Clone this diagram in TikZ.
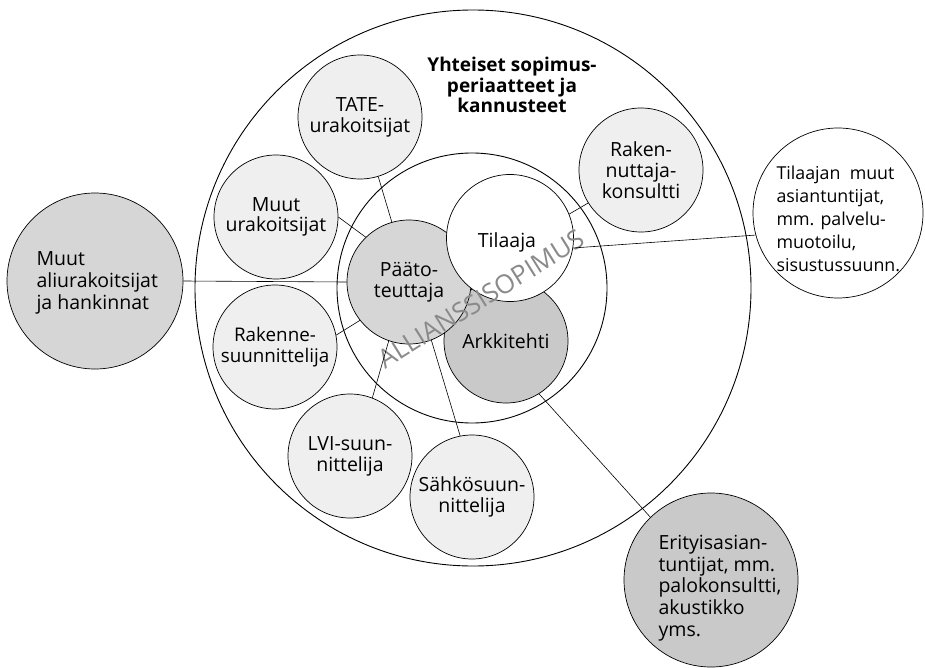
\documentclass[tikz,border=0pt]{standalone}
\usepackage{fontspec}
\setmainfont{Open Sans}
\begin{document}
\begin{tikzpicture}[x=1pt,y=-1pt,
  ring/.style={circle,draw=black,line width=0.9pt,inner sep=0pt},
  bub/.style={circle,draw=black,line width=0.7pt,inner sep=0pt,align=center,font=\fontsize{19.5}{21}\selectfont},
  light/.style={bub,fill=lightfill},
  mid/.style={bub,fill=midfill},
  dark/.style={bub,fill=darkfill},
  wht/.style={bub,fill=white},
  lbl/.style={font=\fontsize{19.5}{21.7}\selectfont,align=left,anchor=west},
  conn/.style={draw=black,line width=0.6pt}]
\definecolor{lightfill}{HTML}{EFEFEF}
\definecolor{midfill}{HTML}{D6D6D6}
\definecolor{darkfill}{HTML}{C9C9C9}
\definecolor{watermark}{HTML}{8A8A8A}
\useasboundingbox (0,0) rectangle (925,668);
% rings
\node[ring,minimum size=556pt] (outer) at (473,288) {};
\node[ring,minimum size=270pt] (inner) at (472,288) {};
% title
\node[font=\bfseries\fontsize{19}{20.5}\selectfont,align=center] (title) at (512,85) {Yhteiset sopimus-\\periaatteet ja\\kannusteet};
% outer bubbles
\node[light,minimum size=124pt] (tate) at (360,117) {TATE-\\urakoitsijat};
\node[light,minimum size=124pt,font=\fontsize{19.5}{19.5}\selectfont] (muut) at (276,217) {Muut\\urakoitsijat};
\node[light,minimum size=124pt,font=\fontsize{18.8}{21}\selectfont] (rakenne) at (275,347) {Rakenne-\\suunnittelija};
\node[light,minimum size=124pt] (lvi) at (350,456) {LVI-suun-\\nittelija};
\node[light,minimum size=124pt] (sahko) at (472,497) {Sähkösuun-\\nittelija};
\node[light,minimum size=124pt] (rakk) at (641,170) {Raken-\\nuttaja-\\konsultti};
% core
\node[dark,minimum size=124pt] (arkk) at (506,341) {Arkkitehti};
\node[mid,minimum size=124pt] (paato) at (409,282) {Pääto-\\teuttaja};
\node[wht,minimum size=127pt] (tilaaja) at (510,238) {};
\node[font=\fontsize{19.5}{21}\selectfont] (tilaajat) at (507,242) {Tilaaja};
% external
\node[mid,minimum size=176pt] (ali) at (95,281) {};
\node[lbl] (alit) at (33,283) {Muut\\aliurakoitsijat\\ja hankinnat};
\node[wht,minimum size=170pt] (tmuut) at (838,213) {};
\node[lbl,font=\fontsize{17.8}{23}\selectfont] (tmuutt) at (773,219) {Tilaajan\ \ muut\\asiantuntijat,\\mm. palvelu-\\muotoilu,\\sisustussuunn.};
\node[dark,minimum size=174pt] (erit) at (711,580) {};
\node[lbl] (eritt) at (655,588) {Erityisasian-\\tuntijat, mm.\\palokonsultti,\\akustikko\\yms.};
% watermark
\node[font=\fontsize{26}{26}\selectfont,text=watermark,rotate=32] (wm) at (481,299) {ALLIANSSISOPIMUS};
% connectors
\draw[conn] (ali.east) -- (paato.west);
\draw[conn] (tilaaja.-9) -- (tmuut.195);
\draw[conn] (tilaaja.22) -- (rakk.212);
\draw[conn] (tate.-73) -- (paato.106);
\draw[conn] (muut.0) -- (paato.134);
\draw[conn] (rakenne.11) -- (paato.218);
\draw[conn] (lvi.69) -- (paato.251);
\draw[conn] (sahko.101) -- (paato.291);
\draw[conn] (arkk.-58) -- (erit.134);
\end{tikzpicture}
\end{document}
